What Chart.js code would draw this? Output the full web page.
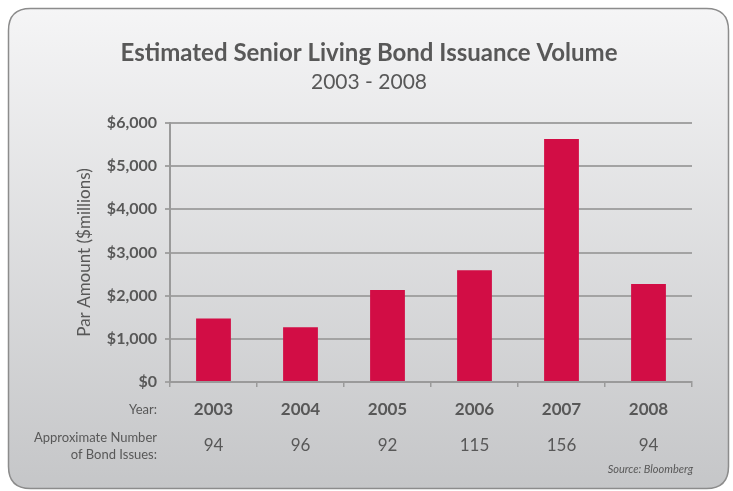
<!DOCTYPE html>
<html>
<head>
<meta charset="utf-8">
<script src="https://cdn.jsdelivr.net/npm/chart.js@4/dist/chart.umd.min.js"></script>
<style>
  html, body { margin: 0; padding: 0; background: #ffffff; }
  #wrap { width: 733px; height: 491px; position: relative; }
</style>
</head>
<body>
<div id="wrap"><canvas id="c" width="733" height="491"></canvas></div>
<script>
const years = ["2003", "2004", "2005", "2006", "2007", "2008"];
const volumes = [1470, 1270, 2130, 2590, 5630, 2270];
const bondIssues = [94, 96, 92, 115, 156, 94];
const titleText = "Estimated Senior Living Bond Issuance Volume";
const subtitleText = "2003 - 2008";
const yAxisTitle = "Par Amount ($millions)";
const rowLabelYear = "Year:";
const rowLabelIssues = ["Approximate Number", "of Bond Issues:"];
const sourceText = "Source: Bloomberg";

const FONT = "Lato, 'Liberation Sans', sans-serif";
const TEXT = "#585858";

const panelPlugin = {
  id: "panel",
  beforeDraw(chart) {
    const ctx = chart.ctx;
    const x = 8.5, y = 8.5, w = 720, h = 480, r = 22;
    ctx.save();
    const g = ctx.createLinearGradient(0, y, 0, y + h);
    g.addColorStop(0, "#f5f5f6");
    g.addColorStop(1, "#c5c6c8");
    ctx.beginPath();
    ctx.moveTo(x + r, y);
    ctx.lineTo(x + w - r, y);
    ctx.quadraticCurveTo(x + w, y, x + w, y + r);
    ctx.lineTo(x + w, y + h - r);
    ctx.quadraticCurveTo(x + w, y + h, x + w - r, y + h);
    ctx.lineTo(x + r, y + h);
    ctx.quadraticCurveTo(x, y + h, x, y + h - r);
    ctx.lineTo(x, y + r);
    ctx.quadraticCurveTo(x, y, x + r, y);
    ctx.closePath();
    ctx.fillStyle = g;
    ctx.fill();
    ctx.lineWidth = 1.5;
    ctx.strokeStyle = "#8c8c8c";
    ctx.stroke();
    // titles
    ctx.fillStyle = TEXT;
    ctx.textAlign = "center";
    ctx.textBaseline = "middle";
    ctx.font = "bold 24px " + FONT;
    ctx.fillText(titleText, 369, 53);
    ctx.font = "21px " + FONT;
    ctx.fillText(subtitleText, 369, 82);
    ctx.restore();
  },
  afterDraw(chart) {
    const ctx = chart.ctx;
    const xs = chart.scales.x;
    ctx.save();
    ctx.fillStyle = TEXT;
    ctx.textBaseline = "middle";
    ctx.textAlign = "right";
    ctx.font = "13px " + FONT;
    ctx.fillText(rowLabelYear, 157, 410);
    ctx.fillText(rowLabelIssues[0], 157, 438);
    ctx.fillText(rowLabelIssues[1], 157, 455);
    ctx.textAlign = "center";
    years.forEach((yr, i) => {
      const px = xs.getPixelForValue(i);
      ctx.font = "bold 17px " + FONT;
      ctx.fillText(yr, px, 410);
      ctx.font = "17px " + FONT;
      ctx.fillText(String(bondIssues[i]), px, 446);
    });
    ctx.textAlign = "right";
    ctx.font = "italic 11px " + FONT;
    ctx.fillText(sourceText, 693, 469);
    ctx.restore();
  }
};

new Chart(document.getElementById("c"), {
  type: "bar",
  data: {
    labels: years,
    datasets: [{
      data: volumes,
      backgroundColor: "#d20d45",
      borderWidth: 0,
      barPercentage: 0.4,
      categoryPercentage: 1.0
    }]
  },
  options: {
    responsive: false,
    animation: false,
    devicePixelRatio: 1,
    layout: { padding: { left: 0, right: 41, top: 123, bottom: 0 } },
    plugins: {
      legend: { display: false },
      tooltip: { enabled: false },
      title: { display: false },
      subtitle: { display: false }
    },
    scales: {
      x: {
        offset: true,
        grid: {
          display: true,
          drawOnChartArea: false,
          drawTicks: true,
          tickLength: 5,
          offset: true,
          color: "#9a9a9a",
          lineWidth: 1.5
        },
        border: { display: true, color: "#9a9a9a", width: 2 },
        ticks: { display: false },
        afterFit(scale) { scale.height = 109; }
      },
      y: {
        min: 0,
        max: 6000,
        ticks: {
          stepSize: 1000,
          color: TEXT,
          padding: 8,
          font: { family: FONT, size: 16, weight: "bold" },
          callback: (v) => "$" + Number(v).toLocaleString("en-US")
        },
        grid: {
          color: "#a3a3a3",
          lineWidth: 2,
          drawTicks: true,
          tickLength: 5
        },
        border: { display: true, color: "#9a9a9a", width: 2 },
        title: {
          display: true,
          text: yAxisTitle,
          color: TEXT,
          font: { family: FONT, size: 17, weight: "normal" },
          padding: { top: 74, bottom: 0 }
        },
        afterFit(scale) { scale.width = 170; }
      }
    }
  },
  plugins: [panelPlugin]
});
</script>
</body>
</html>
